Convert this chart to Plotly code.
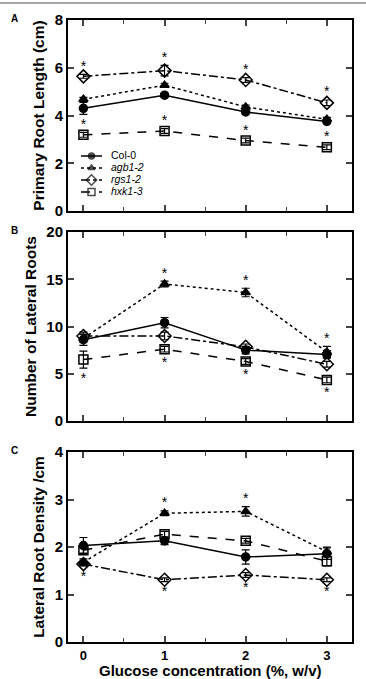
import plotly.graph_objects as go

glucose = [0, 1, 2, 3]
lines = ["Col-0", "agb1-2", "rgs1-2", "hxk1-3"]

# Panel A: primary root length (cm)
A_vals = {
    "Col-0":  [4.30, 4.85, 4.15, 3.75],
    "agb1-2": [4.68, 5.27, 4.36, 3.84],
    "rgs1-2": [5.64, 5.88, 5.49, 4.53],
    "hxk1-3": [3.19, 3.35, 2.95, 2.67],
}
A_err = {
    "Col-0":  [0.25, 0.08, 0.08, 0.08],
    "agb1-2": [0.08, 0.08, 0.08, 0.08],
    "rgs1-2": [0.08, 0.22, 0.10, 0.12],
    "hxk1-3": [0.10, 0.10, 0.10, 0.10],
}
# Panel B: number of lateral roots
B_vals = {
    "Col-0":  [8.6, 10.4, 7.5, 7.05],
    "agb1-2": [8.75, 14.5, 13.6, 7.3],
    "rgs1-2": [9.0, 9.0, 7.85, 6.0],
    "hxk1-3": [6.5, 7.6, 6.3, 4.35],
}
B_err = {
    "Col-0":  [0.6, 0.55, 0.4, 0.4],
    "agb1-2": [0.4, 0.3, 0.45, 0.6],
    "rgs1-2": [0.4, 0.4, 0.3, 0.3],
    "hxk1-3": [0.9, 0.3, 0.3, 0.3],
}
# Panel C: lateral root density (/cm)
C_vals = {
    "Col-0":  [2.03, 2.13, 1.79, 1.86],
    "agb1-2": [1.68, 2.71, 2.75, 1.90],
    "rgs1-2": [1.64, 1.31, 1.41, 1.31],
    "hxk1-3": [1.93, 2.27, 2.13, 1.70],
}
C_err = {
    "Col-0":  [0.17, 0.08, 0.15, 0.12],
    "agb1-2": [0.07, 0.05, 0.10, 0.10],
    "rgs1-2": [0.04, 0.04, 0.05, 0.04],
    "hxk1-3": [0.06, 0.06, 0.05, 0.10],
}
# significance asterisks: (line, direction +1 above / -1 below, x indices)
A_stars = [("rgs1-2", 1, [0, 1, 2, 3]), ("hxk1-3", 1, [0, 1, 2, 3])]
B_stars = [("agb1-2", 1, [1, 2, 3]), ("hxk1-3", -1, [0, 1, 2, 3])]
C_stars = [("agb1-2", 1, [1, 2]), ("rgs1-2", -1, [0, 1, 2, 3])]

y_titles = ["Primary Root Length (cm)", "Number of Lateral Roots", "Lateral Root Density /cm"]
y_ranges = [[0, 8], [0, 20], [0, 4]]
y_dticks = [2, 5, 1]
panel_labels = ["A", "B", "C"]
x_title = "Glucose concentration (%, w/v)"

styles = {
    "Col-0":  dict(dash="solid", symbol="circle", size=8),
    "agb1-2": dict(dash="dot", symbol="triangle-up", size=8),
    "rgs1-2": dict(dash="dashdot", symbol="diamond-open", size=10),
    "hxk1-3": dict(dash="dash", symbol="square-open", size=9),
}
legend_names = {"Col-0": "Col-0", "agb1-2": "<i>agb1-2</i>", "rgs1-2": "<i>rgs1-2</i>", "hxk1-3": "<i>hxk1-3</i>"}

FONT = "Liberation Sans, Arial, sans-serif"
W, H = 366, 679
x_dom = [68 / W, 352 / W]
y_px = [(20, 211), (232, 421), (452, 642)]
y_doms = [[1 - b / H, 1 - t / H] for t, b in y_px]

fig = go.Figure()
panels = [(A_vals, A_err, A_stars), (B_vals, B_err, B_stars), (C_vals, C_err, C_stars)]
for i, (vals, errs, stars) in enumerate(panels):
    xa = "x" if i == 0 else f"x{i+1}"
    ya = "y" if i == 0 else f"y{i+1}"
    for name in lines:
        st = styles[name]
        fig.add_trace(go.Scatter(
            x=glucose, y=vals[name], xaxis=xa, yaxis=ya,
            mode="lines+markers", showlegend=False,
            line=dict(color="black", width=1.5, dash=st["dash"]),
            marker=dict(symbol=st["symbol"], size=st["size"], color="black",
                        line=dict(color="black", width=1.5)),
            error_y=dict(type="data", array=errs[name], color="black", thickness=1.2, width=4),
            cliponaxis=False,
        ))
    pxu = (y_px[i][1] - y_px[i][0]) / (y_ranges[i][1] - y_ranges[i][0])
    for name, d, idx in stars:
        sx = [glucose[k] for k in idx]
        off_px = [(7 + errs[name][k] * pxu) if d > 0 else -(11 + errs[name][k] * pxu) for k in idx]
        sy = [vals[name][k] + off / pxu for k, off in zip(idx, off_px)]
        fig.add_trace(go.Scatter(
            x=sx, y=sy, xaxis=xa, yaxis=ya, mode="text", text=["*"] * len(sx),
            textfont=dict(family=FONT, size=14, color="black"), showlegend=False,
            hoverinfo="skip", cliponaxis=False,
        ))

# manual legend on a full-figure pixel overlay axis
leg_x0, leg_x1, leg_text_x, leg_y0, leg_dy = 81, 102, 111, 156, 12
for j, name in enumerate(lines):
    st = styles[name]
    yy = leg_y0 + j * leg_dy
    fig.add_trace(go.Scatter(
        x=[leg_x0, (leg_x0 + leg_x1) / 2, leg_x1], y=[yy, yy, yy], xaxis="x4", yaxis="y4",
        mode="lines+markers", showlegend=False, hoverinfo="skip",
        line=dict(color="black", width=1.5, dash=st["dash"]),
        marker=dict(symbol=st["symbol"], size=[0, st["size"] - 2, 0], color="black",
                    line=dict(color="black", width=1.5)),
    ))
    fig.add_trace(go.Scatter(
        x=[leg_text_x], y=[yy], xaxis="x4", yaxis="y4", mode="text",
        text=[legend_names[name]], textposition="middle right",
        textfont=dict(family=FONT, size=10.5, color="black"),
        showlegend=False, hoverinfo="skip",
    ))

layout = dict(
    width=W, height=H, margin=dict(l=0, r=0, t=0, b=0, autoexpand=False),
    paper_bgcolor="white", plot_bgcolor="rgba(0,0,0,0)",
    font=dict(family=FONT, color="black"),
    showlegend=False,
    xaxis4=dict(domain=[0, 1], range=[0, W], visible=False, anchor="y4", fixedrange=True),
    yaxis4=dict(domain=[0, 1], range=[H, 0], visible=False, anchor="x4", fixedrange=True),
)
for i in range(3):
    xk = "xaxis" if i == 0 else f"xaxis{i+1}"
    yk = "yaxis" if i == 0 else f"yaxis{i+1}"
    ya = "y" if i == 0 else f"y{i+1}"
    xa = "x" if i == 0 else f"x{i+1}"
    layout[xk] = dict(
        domain=x_dom, anchor=ya, range=[-0.19, 3.31], tickvals=glucose,
        showticklabels=(i == 2), ticks="inside", ticklen=6, tickwidth=1.5,
        showline=True, linecolor="black", linewidth=2, mirror="ticks",
        showgrid=False, zeroline=False, automargin=False,
        minor=dict(tickvals=[0.5, 1.5, 2.5], ticks="inside", ticklen=4, tickwidth=1.2),
        tickfont=dict(size=13, family=FONT, weight="bold"),
        ticklabelstandoff=0,
        fixedrange=True,
    )
    layout[yk] = dict(
        domain=y_doms[i], anchor=xa, range=y_ranges[i], dtick=y_dticks[i],
        ticks="inside", ticklen=6, tickwidth=1.5,
        showline=True, linecolor="black", linewidth=2, mirror="ticks",
        showgrid=False, zeroline=False, automargin=False,
        tickfont=dict(size=15, family=FONT, weight="bold"),
        title=dict(text=y_titles[i], font=dict(size=15.5, weight="bold"), standoff=6),
        fixedrange=True,
    )
fig.update_layout(**layout)

# x-axis title placed at the bottom edge of the figure
fig.add_annotation(text=f"<b>{x_title}</b>", xref="paper", yref="paper",
                   x=(x_dom[0] + x_dom[1]) / 2, y=0, xanchor="center", yanchor="bottom",
                   yshift=-2, showarrow=False, font=dict(size=15, family=FONT))

for i, lab in enumerate(panel_labels):
    fig.add_annotation(text=f"<b>{lab}</b>", xref="paper", yref="paper",
                       x=15 / W, y=1 - (y_px[i][0] - 2) / H, xanchor="center", yanchor="middle",
                       showarrow=False, font=dict(size=10, family=FONT))
fig.add_shape(type="line", xref="paper", yref="paper", x0=0, x1=1,
              y0=1 - 3 / H, y1=1 - 3 / H, line=dict(color="#888888", width=1.5))

fig.write_html("out.html")
